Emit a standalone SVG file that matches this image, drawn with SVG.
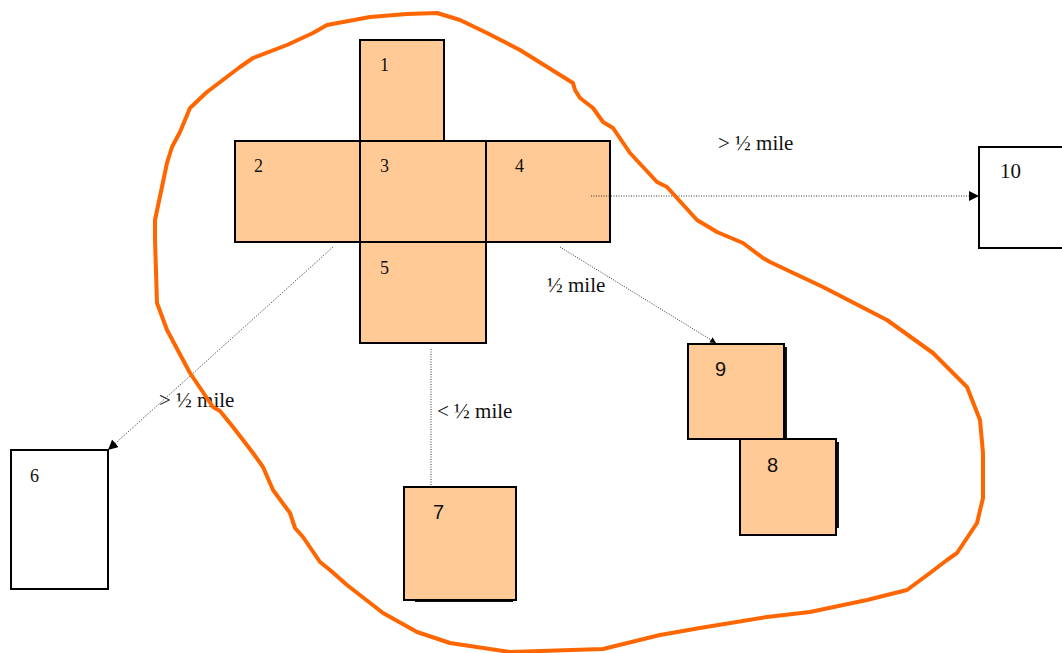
<svg xmlns="http://www.w3.org/2000/svg" width="1062" height="653" viewBox="0 0 1062 653">
<style>
.b{fill:#FFCA96;stroke:#000;stroke-width:2}
.w{fill:#fff;stroke:#000;stroke-width:2}
.sh{fill:#111}
.t{font-family:"Liberation Serif","Times New Roman",serif;font-size:18px;fill:#111}
.a{font-family:"Liberation Sans",Arial,sans-serif;font-size:20px;fill:#111}
.l{font-family:"Liberation Serif","Times New Roman",serif;font-size:21px;fill:#111}
.c{fill:none;stroke:#333;stroke-width:1;stroke-dasharray:1 1.5}
</style>
<defs>
<marker id="ah" viewBox="0 0 10 10" refX="10" refY="5" markerWidth="10" markerHeight="10" markerUnits="userSpaceOnUse" orient="auto">
<path d="M0,0 L10,5 L0,10 Z" fill="#000"/>
</marker>
<marker id="ahs" viewBox="0 0 10 10" refX="10" refY="5" markerWidth="6" markerHeight="6" markerUnits="userSpaceOnUse" orient="auto">
<path d="M0,0 L10,5 L0,10 Z" fill="#000"/>
</marker>
</defs>
<g id="n1"><rect class="b" x="360" y="40" width="84" height="101"/><text class="t" x="380" y="71">1</text></g>
<g id="n2"><rect class="b" x="235" y="141" width="125" height="101"/><text class="t" x="254" y="172">2</text></g>
<g id="n3"><rect class="b" x="360" y="141" width="126" height="101"/><text class="t" x="380" y="172">3</text></g>
<g id="n4"><rect class="b" x="486" y="141" width="124" height="101"/><text class="t" x="515" y="172">4</text></g>
<g id="n5"><rect class="b" x="360" y="242" width="126" height="101"/><text class="t" x="380" y="274">5</text></g>
<g id="n6"><rect class="w" x="11" y="450" width="97" height="139"/><text class="t" x="30" y="482">6</text></g>
<g id="n7"><rect class="sh" x="415" y="599" width="98" height="3"/><rect class="b" x="404" y="487" width="112" height="113"/><text class="a" x="433" y="519">7</text></g>
<g id="n9"><rect class="sh" x="784" y="347" width="3" height="92"/><rect class="b" x="688" y="344" width="96" height="95"/><text class="a" x="715" y="376">9</text></g>
<g id="n8"><rect class="sh" x="836" y="442" width="3" height="86"/><rect class="b" x="740" y="439" width="96" height="96"/><text class="a" x="767" y="472">8</text></g>
<g id="n10"><rect class="w" x="979" y="147" width="90" height="101"/><text class="l" x="1000" y="178">10</text></g>
<g id="connectors">
<line class="c" x1="591" y1="196" x2="979" y2="196" marker-end="url(#ah)"/>
<line class="c" x1="333" y1="247" x2="108" y2="450" marker-end="url(#ah)"/>
<line class="c" x1="560" y1="247" x2="716" y2="343" marker-end="url(#ahs)"/>
<line class="c" x1="431" y1="349" x2="431" y2="487"/>
<text class="l" x="718" y="150">&gt; ½ mile</text>
<text class="l" x="547" y="292">½ mile</text>
<text class="l" x="159" y="407">&gt; ½ mile</text>
<text class="l" x="437" y="418">&lt; ½ mile</text>
</g>
<g id="boundary">
<path d="M437,13 L460,20 L487,33 L520,50 L573,83 L575,90 L580,98 L593,108 L603,122 L613,128 L630,153 L657,182 L667,187 L697,220 L717,232 L743,243 L763,258 L770,262 L823,287 L887,320 L933,353 L967,387 L980,420 L983,453 L983,498 L977,523 L957,553 L947,560 L930,573 L907,590 L867,600 L810,612 L767,617 L700,628 L660,635 L603,649 L510,652 L450,643 L417,632 L383,613 L347,585 L330,570 L320,562 L303,537 L295,528 L290,513 L273,490 L263,467 L253,453 L233,427 L220,411 L213,407 L190,373 L167,330 L157,303 L155,240 L155,220 L167,163 L172,147 L180,132 L190,108 L207,92 L240,67 L253,58 L287,45 L313,33 L327,25 L370,17 L407,14 Z" fill="none" stroke="#FF6600" stroke-width="4" stroke-linejoin="round" stroke-linecap="round"/>
</g>
</svg>
